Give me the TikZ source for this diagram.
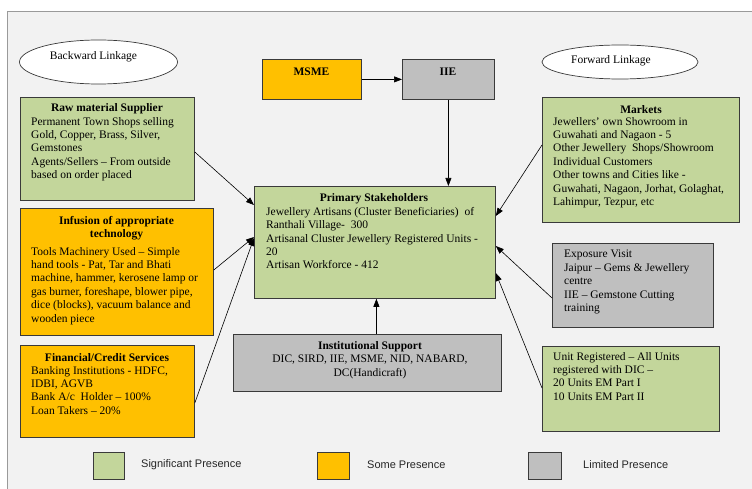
\documentclass[tikz,border=0pt]{standalone}
\usepackage{fontspec}
\setmainfont{Liberation Serif}
\newfontfamily\legfont{Liberation Sans}
\usetikzlibrary{arrows.meta,calc,shapes.geometric}
\definecolor{sgreen}{HTML}{C3D69B}
\definecolor{sorange}{HTML}{FFC000}
\definecolor{sgray}{HTML}{BFBFBF}
\definecolor{bgc}{HTML}{F2F2F2}
\definecolor{edgec}{HTML}{3A3A3A}
\definecolor{framec}{HTML}{9A9A9A}
\begin{document}
\begin{tikzpicture}[x=1pt,y=-1pt,
  box/.style={draw=edgec, line width=0.8pt, inner sep=0pt, anchor=north west},
  ttl/.style={font=\fontsize{11.5}{13.4}\selectfont\bfseries, align=center, inner sep=0pt},
  txt/.style={font=\fontsize{11.5}{13.4}\selectfont, align=left, inner sep=0pt, anchor=north west},
  ctxt/.style={font=\fontsize{11.5}{13.4}\selectfont, align=center, inner sep=0pt},
  oval/.style={draw=edgec, line width=0.7pt, fill=white, ellipse, inner sep=0pt},
  leg/.style={font=\legfont\fontsize{11}{13}\selectfont, text=black!85, anchor=west, inner sep=0pt},
  arr/.style={-{Triangle[length=8pt,width=6pt]}, line width=0.6pt, draw=black}]
\useasboundingbox (0,0) rectangle (752,489);
\fill[white] (0,0) rectangle (752,489);
\fill[bgc] (7,12) rectangle (752,489);
\draw[framec, line width=1pt] (7,489) -- (7,12) -- (752,12);

% ellipses
\node[oval, minimum width=158pt, minimum height=44pt] (back) at (98.5,62) {};
\node[ctxt] (backt) at (93.5,57) {Backward Linkage};
\node[oval, minimum width=156pt, minimum height=34pt] (fwd) at (620,62) {};
\node[ctxt] (fwdt) at (611,61) {Forward Linkage};

% boxes
\node[box, fill=sgreen, minimum width=174pt, minimum height=103pt] (raw) at (20,97) {};
\node[ttl] (rawt) at (107,109) {Raw material Supplier};
\node[txt] (rawb) at (31,117) {Permanent Town Shops selling\\Gold, Copper, Brass, Silver,\\Gemstones\\Agents/Sellers – From outside\\based on order placed};

\node[box, fill=sorange, minimum width=193pt, minimum height=127pt] (inf) at (20,208) {};
\node[ttl] (inft) at (116.5,228.5) {Infusion of appropriate\\technology};
\node[txt] (infb) at (31,247) {Tools Machinery Used – Simple\\hand tools - Pat, Tar and Bhati\\machine, hammer, kerosene lamp or\\gas burner, foreshape, blower pipe,\\dice (blocks), vacuum balance and\\wooden piece};

\node[box, fill=sorange, minimum width=174pt, minimum height=92pt] (fin) at (20,345) {};
\node[ttl] (fint) at (107,358) {Financial/Credit Services};
\node[txt] (finb) at (31,366) {Banking Institutions - HDFC,\\IDBI, AGVB\\Bank A/c\ \ Holder – 100\%\\Loan Takers – 20\%};

\node[box, fill=sorange, minimum width=99pt, minimum height=40pt] (msme) at (262,59) {};
\node[ttl] (msmet) at (311.5,72) {MSME};
\node[box, fill=sgray, minimum width=92pt, minimum height=40pt] (iie) at (402,59) {};
\node[ttl] (iiet) at (448,72) {IIE};

\node[box, fill=sgreen, minimum width=241pt, minimum height=112pt] (prim) at (254,186) {};
\node[ttl] (primt) at (374,199) {Primary Stakeholders};
\node[txt] (primb) at (266,207) {Jewellery Artisans (Cluster Beneficiaries)\ \ of\\Ranthali Village-\ \ 300\\Artisanal Cluster Jewellery Registered Units -\\20\\Artisan Workforce - 412};

\node[box, fill=sgray, minimum width=268pt, minimum height=57pt] (inst) at (233,334) {};
\node[ctxt] (instt) at (370,360) {\textbf{Institutional Support}\\DIC, SIRD, IIE, MSME, NID, NABARD,\\DC(Handicraft)};

\node[box, fill=sgreen, minimum width=197pt, minimum height=125pt] (mkt) at (542,97) {};
\node[ttl] (mktt) at (641,110) {Markets};
\node[txt] (mktb) at (553,117) {Jewellers’ own Showroom in\\Guwahati and Nagaon - 5\\Other Jewellery\ \ Shops/Showroom\\Individual Customers\\Other towns and Cities like -\\Guwahati, Nagaon, Jorhat, Golaghat,\\Lahimpur, Tezpur, etc};

\node[box, fill=sgray, minimum width=161pt, minimum height=84pt] (exv) at (552,243) {};
\node[txt] (exvb) at (564,250) {Exposure Visit\\Jaipur – Gems \& Jewellery\\centre\\IIE – Gemstone Cutting\\training};

\node[box, fill=sgreen, minimum width=177pt, minimum height=85pt] (unit) at (542,346) {};
\node[txt] (unitb) at (553,352) {Unit Registered – All Units\\registered with DIC –\\20 Units EM Part I\\10 Units EM Part II};

% legend
\node[box, fill=sgreen, minimum width=31pt, minimum height=27pt] (lg1) at (93,452) {};
\node[leg] (lg1t) at (141,465) {Significant Presence};
\node[box, fill=sorange, minimum width=32pt, minimum height=27pt] (lg2) at (317,452) {};
\node[leg] (lg2t) at (367,465) {Some Presence};
\node[box, fill=sgray, minimum width=33pt, minimum height=27pt] (lg3) at (528,452) {};
\node[leg] (lg3t) at (583,465) {Limited Presence};

% connectors
\draw[arr] (msme.east) -- (iie.west);
\draw[arr] (iie.south) -- (iie.south |- prim.north);
\draw[arr] ($(inst.north)+(9,0)$) -- ($(prim.south)+(1.5,0)$);
\draw[arr] ($(raw.north east)+(0,55)$) -- ($(prim.north west)+(0,19)$);
\draw[arr] ($(inf.north east)+(0,62)$) -- ($(prim.north west)+(0,51)$);
\draw[arr] ($(fin.north east)+(0,58)$) -- ($(prim.north west)+(0,52)$);
\draw[arr] ($(mkt.north west)+(0,48)$) -- ($(prim.north east)+(0,30)$);
\draw[arr] ($(exv.north west)+(0,55)$) -- ($(prim.north east)+(0,60)$);
\draw[arr] ($(unit.north west)+(0,42)$) -- ($(prim.north east)+(0,87)$);
\end{tikzpicture}
\end{document}
